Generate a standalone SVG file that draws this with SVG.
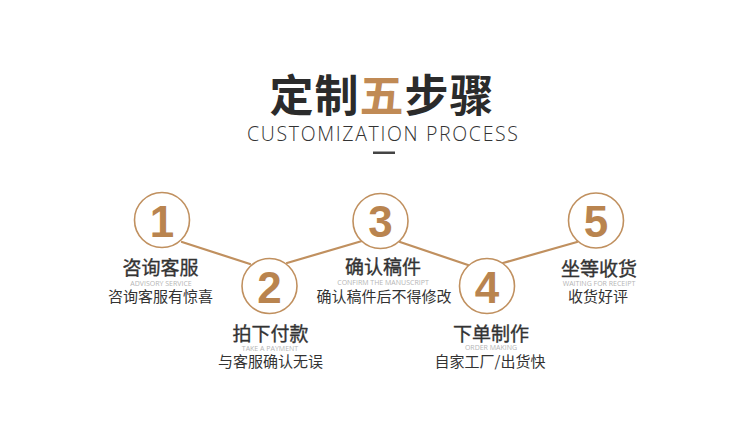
<svg xmlns="http://www.w3.org/2000/svg" width="750" height="431" viewBox="0 0 750 431">
<style>
.cjk{font-family:"Noto Sans CJK SC","Noto Sans",sans-serif;text-anchor:middle}
.t1{font-size:19px;fill:#333;stroke:#333;stroke-width:0.35}
.t2{font-size:15px;fill:#333}
.en{font-family:"Open Sans","Noto Sans",sans-serif;font-size:7px;fill:#b5b5b5;text-anchor:middle}
.ring{fill:#fff;stroke:#c0905f;stroke-width:1.6}
.num{font-family:"Liberation Sans",Arial,sans-serif;font-weight:bold;font-size:44px;fill:#b9844f;text-anchor:middle}
.conn line{stroke:#c0905f;stroke-width:2.2;stroke-linecap:round}
</style>
<rect width="750" height="431" fill="#fff"/>
<g id="title">
<text x="382" y="112" class="cjk" font-size="44" font-weight="bold" fill="#2b2b2b" letter-spacing="1">定制<tspan fill="#c08a55">五</tspan>步骤</text>
<text x="382.5" y="141" font-family="Open Sans,Noto Sans,sans-serif" font-size="19.5" font-weight="300" fill="#333" text-anchor="middle" textLength="271" lengthAdjust="spacing">CUSTOMIZATION PROCESS</text>
<rect x="373" y="151.5" width="22" height="2.5" fill="#444"/>
</g>
<g class="conn" id="connectors">
<line x1="182" y1="242" x2="250" y2="264"/>
<line x1="287" y1="263" x2="362" y2="241"/>
<line x1="400" y1="242" x2="468" y2="265"/>
<line x1="503" y1="263" x2="577" y2="242"/>
</g>
<g id="step1">
<circle class="ring" cx="162" cy="220" r="27.5"/>
<text class="num" x="162" y="237">1</text>
<text class="cjk t1" x="160.5" y="274.5">咨询客服</text>
<text class="en" x="161" y="285.5">ADVISORY SERVICE</text>
<text class="cjk t2" x="160.5" y="301.5">咨询客服有惊喜</text>
</g>
<g id="step2">
<circle class="ring" cx="269.5" cy="286" r="27.5"/>
<text class="num" x="269.5" y="303">2</text>
<text class="cjk t1" x="270.5" y="340.5">拍下付款</text>
<text class="en" x="270" y="350.5">TAKE A PAYMENT</text>
<text class="cjk t2" x="270.5" y="366.5">与客服确认无误</text>
</g>
<g id="step3">
<circle class="ring" cx="380.5" cy="221" r="27.5"/>
<text class="num" x="380.5" y="237">3</text>
<text class="cjk t1" x="383" y="273.5">确认稿件</text>
<text class="en" x="383" y="284.5">CONFIRM THE MANUSCRIPT</text>
<text class="cjk t2" x="384" y="301.5">确认稿件后不得修改</text>
</g>
<g id="step4">
<circle class="ring" cx="487" cy="286" r="27.5"/>
<text class="num" x="487" y="303">4</text>
<text class="cjk t1" x="491" y="340.5">下单制作</text>
<text class="en" x="491" y="349.5">ORDER MAKING</text>
<text class="cjk t2" x="490" y="366.5">自家工厂/出货快</text>
</g>
<g id="step5">
<circle class="ring" cx="596" cy="220.5" r="27.5"/>
<text class="num" x="596" y="237">5</text>
<text class="cjk t1" x="599" y="275.5">坐等收货</text>
<text class="en" x="599" y="285.5">WAITING FOR RECEIPT</text>
<text class="cjk t2" x="598" y="301.5">收货好评</text>
</g>
</svg>
